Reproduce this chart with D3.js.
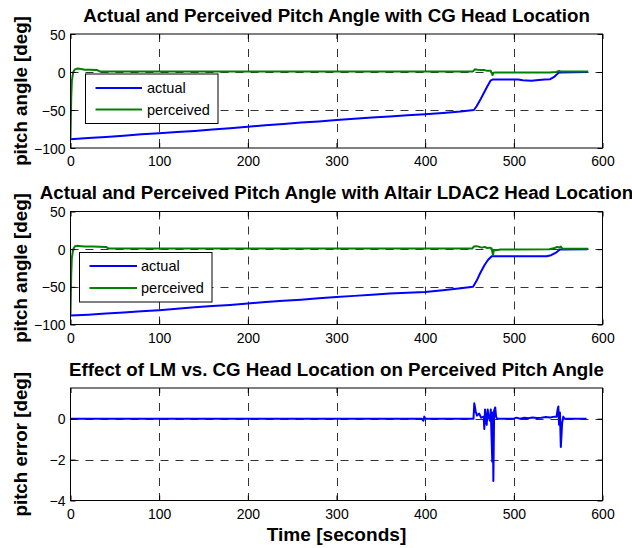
<!DOCTYPE html>
<html><head><meta charset="utf-8">
<script src="https://cdn.jsdelivr.net/npm/d3@7"></script>
<style>
html,body{margin:0;padding:0;background:#fff;}
svg{display:block;font-family:"Liberation Sans",Arial,Helvetica,sans-serif;}
</style></head>
<body>
<svg id="chart" width="632" height="548"></svg>
<script>
// ---------- data ----------
const xTicks = [0, 100, 200, 300, 400, 500, 600];
const yTicksAngle = [-100, -50, 0, 50];
const yTicksErr = [-4, -2, 0];

const titles = [
  "Actual and Perceived Pitch Angle with CG Head Location",
  "Actual and Perceived Pitch Angle with Altair LDAC2 Head Location",
  "Effect of LM vs. CG Head Location on Perceived Pitch Angle"
];
const yLabels = ["pitch angle [deg]", "pitch angle [deg]", "pitch error [deg]"];
const xLabel = "Time [seconds]";
const legendNames = ["actual", "perceived"];

// CG head location
const tActualCG = [0, 20, 40, 60, 80, 100, 120, 140, 160, 180, 200, 220, 240, 260, 280, 300, 320, 340, 360, 380, 400, 420, 440, 455, 458, 462, 466, 470, 474, 476, 490, 505, 510, 520, 528, 535, 541, 546, 551, 583];
const vActualCG = [-88.5, -87, -85.5, -84, -82, -80.5, -79, -77.5, -75.5, -74, -72, -70, -68.5, -66.5, -65, -63, -61.5, -60, -58.5, -57, -55.5, -54, -52, -50, -45, -37, -28, -19, -11, -10, -10, -10, -11, -11.5, -10.5, -10, -9.5, -6, -0.5, 0];
const tPercCG = [0, 0.8, 1.5, 3, 5, 8, 12, 16, 22, 30, 33, 100, 200, 300, 400, 454, 456, 459, 463, 467, 470, 474, 476, 477, 479, 500, 540, 548, 551, 554, 584];
const vPercCG = [-88, -35, -12, 0, 3.5, 4.5, 4, 3, 3, 2.5, 0.8, 0.8, 0.8, 0.8, 0.8, 0.8, 3.5, 3, 2.5, 2.5, 1.5, 1.5, -4, -1, -0.5, -0.5, -0.5, 0, 1.5, 0.5, 0.5];

// Altair LDAC2 head location
const tActualLM = [0, 20, 40, 60, 80, 100, 120, 140, 160, 180, 200, 220, 240, 260, 280, 300, 320, 340, 360, 380, 400, 420, 440, 454, 458, 462, 467, 471, 475, 490, 510, 525, 537, 542, 547, 552, 583];
const vActualLM = [-88, -87, -85.5, -84, -82.5, -81, -79, -77, -75.5, -74, -72, -70, -68.5, -67, -65, -63.5, -62, -60.5, -59, -58, -57, -54.5, -52, -50, -42, -32, -21, -14, -9.5, -9.5, -9.5, -9.5, -9.5, -8, -5, -0.5, 0];
const tPercLM = [0, 0.8, 1.5, 3, 5, 8, 12, 16, 25, 40, 43, 100, 200, 300, 400, 453, 455, 458, 461, 464, 467, 470, 473, 475, 476.5, 477.5, 480, 485, 500, 540, 546, 549, 551, 553, 555, 584];
const vPercLM = [-88, -35, -12, 0, 4, 4.5, 4, 3.5, 3.5, 3, 0.8, 0.8, 0.8, 0.8, 0.8, 0.8, 3.5, 4, 3, 2, 3, 1.5, 2, 1, -8, -1, -1.5, -0.5, -0.5, 0, 1.5, 3, 2, 3.5, 0.5, 0.5];

// pitch error (LM - CG)
const tError = [0, 396, 398, 399, 400, 402, 454.5, 455.4, 457, 458.5, 461, 463, 466, 466.7, 467.5, 468.5, 469.4, 470.5, 471.5, 473, 474, 474.8, 475.7, 476.3, 476.9, 477.8, 479, 480, 481, 500, 503, 507, 512, 516, 521, 526, 531, 536, 541, 546, 548.3, 549.2, 550.2, 551, 552, 553, 554.5, 555.8, 557, 582];
const vError = [0, 0, -0.1, 0.1, 0, 0, 0, 0.75, 0.35, 0.15, 0.25, 0.05, 0.1, -0.5, 0.45, 0, -0.3, 0.45, 0.1, -0.1, 0.45, -0.8, -2.1, 0.3, -3.05, 0.4, 0.55, 0.1, 0, 0, 0.05, 0, 0.05, 0.02, 0.06, 0.03, 0.05, 0.08, 0.06, 0.1, 0.1, 0.4, 0.6, -0.3, 0.3, -1.38, -0.2, 0.1, 0, 0];

// ---------- layout ----------
const svg = d3.select("#chart");
const X0 = 70.5, X1 = 602.5;
const BLUE = "#0000ff", GREEN = "#008000";
const FONT = '"Liberation Sans",Arial,Helvetica,sans-serif';

const panels = [
  {top: 34, bottom: 148, dom: [-100, 50], yt: yTicksAngle,
   series: [{t: tActualCG, v: vActualCG, c: BLUE}, {t: tPercCG, v: vPercCG, c: GREEN}],
   legend: {x: 85.5, y: 74, w: 132.5, h: 49.5, lx0: 95.5, lx1: 142, tx: 147, ly: [88, 109.5]}},
  {top: 211.5, bottom: 324.5, dom: [-100, 50], yt: yTicksAngle,
   series: [{t: tActualLM, v: vActualLM, c: BLUE}, {t: tPercLM, v: vPercLM, c: GREEN}],
   legend: {x: 79.5, y: 252.5, w: 132.5, h: 49.5, lx0: 89.5, lx1: 137, tx: 141, ly: [266, 288]}},
  {top: 388, bottom: 500.5, dom: [-4, 1.5], yt: yTicksErr,
   series: [{t: tError, v: vError, c: BLUE}], legend: null}
];

const x = d3.scaleLinear().domain([0, 600]).range([X0, X1]);

panels.forEach((p, i) => {
  const y = d3.scaleLinear().domain(p.dom).range([p.bottom, p.top]);
  const g = svg.append("g");
  const clipId = "clip" + i;
  svg.append("clipPath").attr("id", clipId).append("rect")
    .attr("x", X0).attr("y", p.top).attr("width", X1 - X0).attr("height", p.bottom - p.top);

  // grid
  const gridX = xTicks.filter(d => d > 0 && d < 600);
  const gridY = p.yt.filter(d => d > p.dom[0] && d < p.dom[1]);
  g.selectAll(".gx").data(gridX).join("line")
    .attr("x1", d => Math.round(x(d)) + 0.5).attr("x2", d => Math.round(x(d)) + 0.5)
    .attr("y1", p.top).attr("y2", p.bottom)
    .attr("stroke", "#333").attr("stroke-width", 1).attr("stroke-dasharray", "8,7");
  g.selectAll(".gy").data(gridY).join("line")
    .attr("y1", d => Math.round(y(d)) + 0.5).attr("y2", d => Math.round(y(d)) + 0.5)
    .attr("x1", X0).attr("x2", X1)
    .attr("stroke", "#333").attr("stroke-width", 1).attr("stroke-dasharray", "8,7");

  // series
  const line = d3.line().x(d => x(d[0])).y(d => y(d[1]));
  p.series.forEach(s => {
    g.append("path").datum(s.t.map((t, k) => [t, s.v[k]]))
      .attr("d", line).attr("fill", "none").attr("stroke", s.c)
      .attr("stroke-width", 2).attr("stroke-linejoin", "round")
      .attr("clip-path", `url(#${clipId})`);
  });

  // axes (ticks inside, box)
  const axB = g.append("g").attr("transform", `translate(0,${p.bottom})`)
    .call(d3.axisBottom(x).tickValues(xTicks).tickSize(-5).tickFormat(d3.format("d")));
  axB.selectAll("text").attr("y", 18).attr("dy", 0);
  const axT = g.append("g").attr("transform", `translate(0,${p.top})`)
    .call(d3.axisTop(x).tickValues(xTicks).tickSize(-5).tickFormat(""));
  const axL = g.append("g").attr("transform", `translate(${X0},0)`)
    .call(d3.axisLeft(y).tickValues(p.yt).tickSize(-5).tickFormat(d3.format("d")));
  axL.selectAll("text").attr("x", -5).attr("dy", "0.36em");
  const axR = g.append("g").attr("transform", `translate(${X1},0)`)
    .call(d3.axisRight(y).tickValues(p.yt).tickSize(-5).tickFormat(""));
  [axB, axT, axL, axR].forEach(a => {
    a.select(".domain").remove();
    a.selectAll("line").attr("stroke", "#000");
    a.selectAll("text").attr("font-size", 14).attr("fill", "#000").attr("font-family", FONT);
  });
  g.append("rect").attr("x", X0).attr("y", p.top).attr("width", X1 - X0)
    .attr("height", p.bottom - p.top).attr("fill", "none").attr("stroke", "#000").attr("stroke-width", 1);

  // title
  svg.append("text").attr("transform", `translate(${(X0 + X1) / 2},${p.top - 12.5}) scale(1.07,1)`)
    .attr("text-anchor", "middle").attr("font-size", 17.5).attr("font-weight", "bold")
    .text(titles[i]);
  // y label
  svg.append("text")
    .attr("transform", `translate(27,${(p.top + p.bottom) / 2}) rotate(-90) scale(1.07,1)`)
    .attr("text-anchor", "middle").attr("font-size", 17.5).attr("font-weight", "bold")
    .text(yLabels[i]);

  // legend
  if (p.legend) {
    const L = p.legend;
    const lg = svg.append("g");
    lg.append("rect").attr("x", L.x).attr("y", L.y).attr("width", L.w).attr("height", L.h)
      .attr("fill", "#fff").attr("stroke", "#000").attr("stroke-width", 1);
    p.series.forEach((s, k) => {
      lg.append("line").attr("x1", L.lx0).attr("x2", L.lx1).attr("y1", L.ly[k]).attr("y2", L.ly[k])
        .attr("stroke", s.c).attr("stroke-width", 2);
      lg.append("text").attr("x", L.tx).attr("y", L.ly[k] + 5)
        .attr("font-size", 14.5).text(legendNames[k]);
    });
  }
});

// x label
svg.append("text").attr("transform", `translate(${(X0 + X1) / 2},541) scale(1.09,1)`)
  .attr("text-anchor", "middle").attr("font-size", 17.5).attr("font-weight", "bold").text(xLabel);
</script>
</body></html>
